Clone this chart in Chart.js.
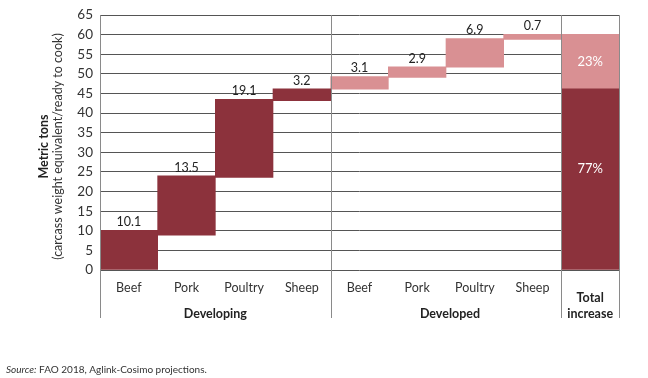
<!DOCTYPE html>
<html>
<head>
<meta charset="utf-8">
<script src="https://cdn.jsdelivr.net/npm/chart.js@4"></script>
<style>
  html, body { margin: 0; padding: 0; background: #ffffff; }
  #wrap { width: 648px; height: 378px; position: relative; }
</style>
</head>
<body>
<div id="wrap"><canvas id="c" width="648" height="378"></canvas></div>
<script>
// ---- data ----
const categories = ['Beef', 'Pork', 'Poultry', 'Sheep', 'Beef', 'Pork', 'Poultry', 'Sheep', 'Total increase'];
const groupNames = ['Developing', 'Developed'];
const developingLow  = [0, 8.9, 23.6, 43.2];
const developingHigh = [10.1, 24.0, 43.5, 46.2];
const developingLabels = ['10.1', '13.5', '19.1', '3.2'];
const developedLow  = [46.1, 49.1, 51.7, 58.8];
const developedHigh = [49.3, 51.8, 59.0, 60.1];
const developedLabels = ['3.1', '2.9', '6.9', '0.7'];
const totalDeveloping = [0, 46.2];
const totalDeveloped = [46.2, 60.1];
const totalShares = ['77%', '23%'];
const yTicks = [0, 5, 10, 15, 20, 25, 30, 35, 40, 45, 50, 55, 60, 65];
const sourceNote = ['Source:', ' FAO 2018, Aglink-Cosimo projections.'];
const yTitle = ['Metric tons', '(carcass weight equivalent/ready to cook)'];

const DARK = '#8c323c';
const LIGHT = '#d99093';
const FONT = 'Lato, "Open Sans", sans-serif';

// build datasets
const darkData = categories.map(() => null);
const lightData = categories.map(() => null);
developingLow.forEach((v, i) => { darkData[i] = [v, developingHigh[i]]; });
developedLow.forEach((v, i) => { lightData[4 + i] = [v, developedHigh[i]]; });
darkData[8] = totalDeveloping;
lightData[8] = totalDeveloped;
const darkLabels = categories.map(() => null);
const lightLabels = categories.map(() => null);
developingLabels.forEach((t, i) => { darkLabels[i] = t; });
developedLabels.forEach((t, i) => { lightLabels[4 + i] = t; });

const decorations = {
  id: 'decorations',
  afterDatasetsDraw(chart) {
    const ctx = chart.ctx;
    const x = chart.scales.x;
    const area = chart.chartArea;
    const half = (x.getPixelForValue(1) - x.getPixelForValue(0)) / 2;
    const edge = i => x.getPixelForValue(i) - half;

    // value labels
    ctx.save();
    ctx.font = '12.5px ' + FONT;
    ctx.fillStyle = '#222';
    ctx.textAlign = 'center';
    ctx.textBaseline = 'bottom';
    [[0, darkLabels], [1, lightLabels]].forEach(([di, labels]) => {
      const meta = chart.getDatasetMeta(di);
      meta.data.forEach((el, i) => {
        if (labels[i]) ctx.fillText(labels[i], el.x, el.y - 2);
      });
    });
    // share labels in total column
    ctx.font = '13px ' + FONT;
    ctx.fillStyle = '#ffffff';
    ctx.textBaseline = 'middle';
    [0, 1].forEach(di => {
      const el = chart.getDatasetMeta(di).data[8];
      ctx.fillText(totalShares[di], el.x, (el.y + el.base) / 2 - (di === 0 ? 10 : 0));
    });
    ctx.restore();

    // vertical separators
    ctx.save();
    ctx.strokeStyle = '#8a8a8a';
    ctx.lineWidth = 1;
    [0, 4, 8, 9].forEach(i => {
      const px = Math.round(edge(i)) + 0.5;
      ctx.beginPath();
      ctx.moveTo(px, area.top);
      ctx.lineTo(px, area.bottom + 48);
      ctx.stroke();
    });
    ctx.restore();

    // group labels
    ctx.save();
    ctx.font = 'bold 12.5px ' + FONT;
    ctx.fillStyle = '#222';
    ctx.textAlign = 'center';
    ctx.textBaseline = 'middle';
    ctx.fillText(groupNames[0], (edge(0) + edge(4)) / 2, area.bottom + 44);
    ctx.fillText(groupNames[1], (edge(4) + edge(8)) / 2 + 4, area.bottom + 44);
    const totalWords = categories[8].split(' ');
    const tx = (edge(8) + edge(9)) / 2;
    ctx.fillText(totalWords[0], tx, area.bottom + 28);
    ctx.fillText(totalWords[1], tx, area.bottom + 44);
    ctx.restore();

    // y title
    ctx.save();
    ctx.translate(44, (area.top + area.bottom) / 2 + 4);
    ctx.rotate(-Math.PI / 2);
    ctx.textAlign = 'center';
    ctx.textBaseline = 'middle';
    ctx.fillStyle = '#222';
    ctx.font = 'bold 12.5px ' + FONT;
    ctx.fillText(yTitle[0], 0, 0);
    ctx.font = '12.5px ' + FONT;
    ctx.fillStyle = '#333';
    ctx.fillText(yTitle[1], 0, 14);
    ctx.restore();

    // source note
    ctx.save();
    ctx.fillStyle = '#333';
    ctx.textBaseline = 'middle';
    ctx.textAlign = 'left';
    ctx.font = 'italic 10px ' + FONT;
    ctx.fillText(sourceNote[0], 6, 370);
    const w = ctx.measureText(sourceNote[0]).width;
    ctx.font = '10px ' + FONT;
    ctx.fillText(sourceNote[1], 6 + w, 370);
    ctx.restore();
  }
};

new Chart(document.getElementById('c'), {
  type: 'bar',
  data: {
    labels: categories,
    datasets: [
      { data: darkData, backgroundColor: DARK, borderWidth: 0, grouped: false,
        barPercentage: 1, categoryPercentage: 1 },
      { data: lightData, backgroundColor: LIGHT, borderWidth: 0, grouped: false,
        barPercentage: 1, categoryPercentage: 1 }
    ]
  },
  options: {
    responsive: false,
    animation: false,
    layout: { padding: { top: 13, right: 29, left: 0, bottom: 0 } },
    plugins: { legend: { display: false }, tooltip: { enabled: false } },
    scales: {
      x: {
        grid: { display: false },
        border: { display: false },
        ticks: {
          padding: 2,
          color: '#333',
          font: { family: FONT, size: 12.5 },
          maxRotation: 0,
          autoSkip: false,
          callback: (v, i) => i < 8 ? categories[i] : ''
        },
        afterFit: s => { s.height = 108; }
      },
      y: {
        min: 0, max: 65,
        afterBuildTicks: s => { s.ticks = yTicks.map(v => ({ value: v })); },
        grid: { color: '#555', lineWidth: 1, drawTicks: false },
        border: { display: false },
        ticks: {
          padding: 7,
          color: '#333',
          font: { family: FONT, size: 13.5 }
        },
        afterFit: s => { s.width = 100; }
      }
    }
  },
  plugins: [decorations]
});
</script>
</body>
</html>
